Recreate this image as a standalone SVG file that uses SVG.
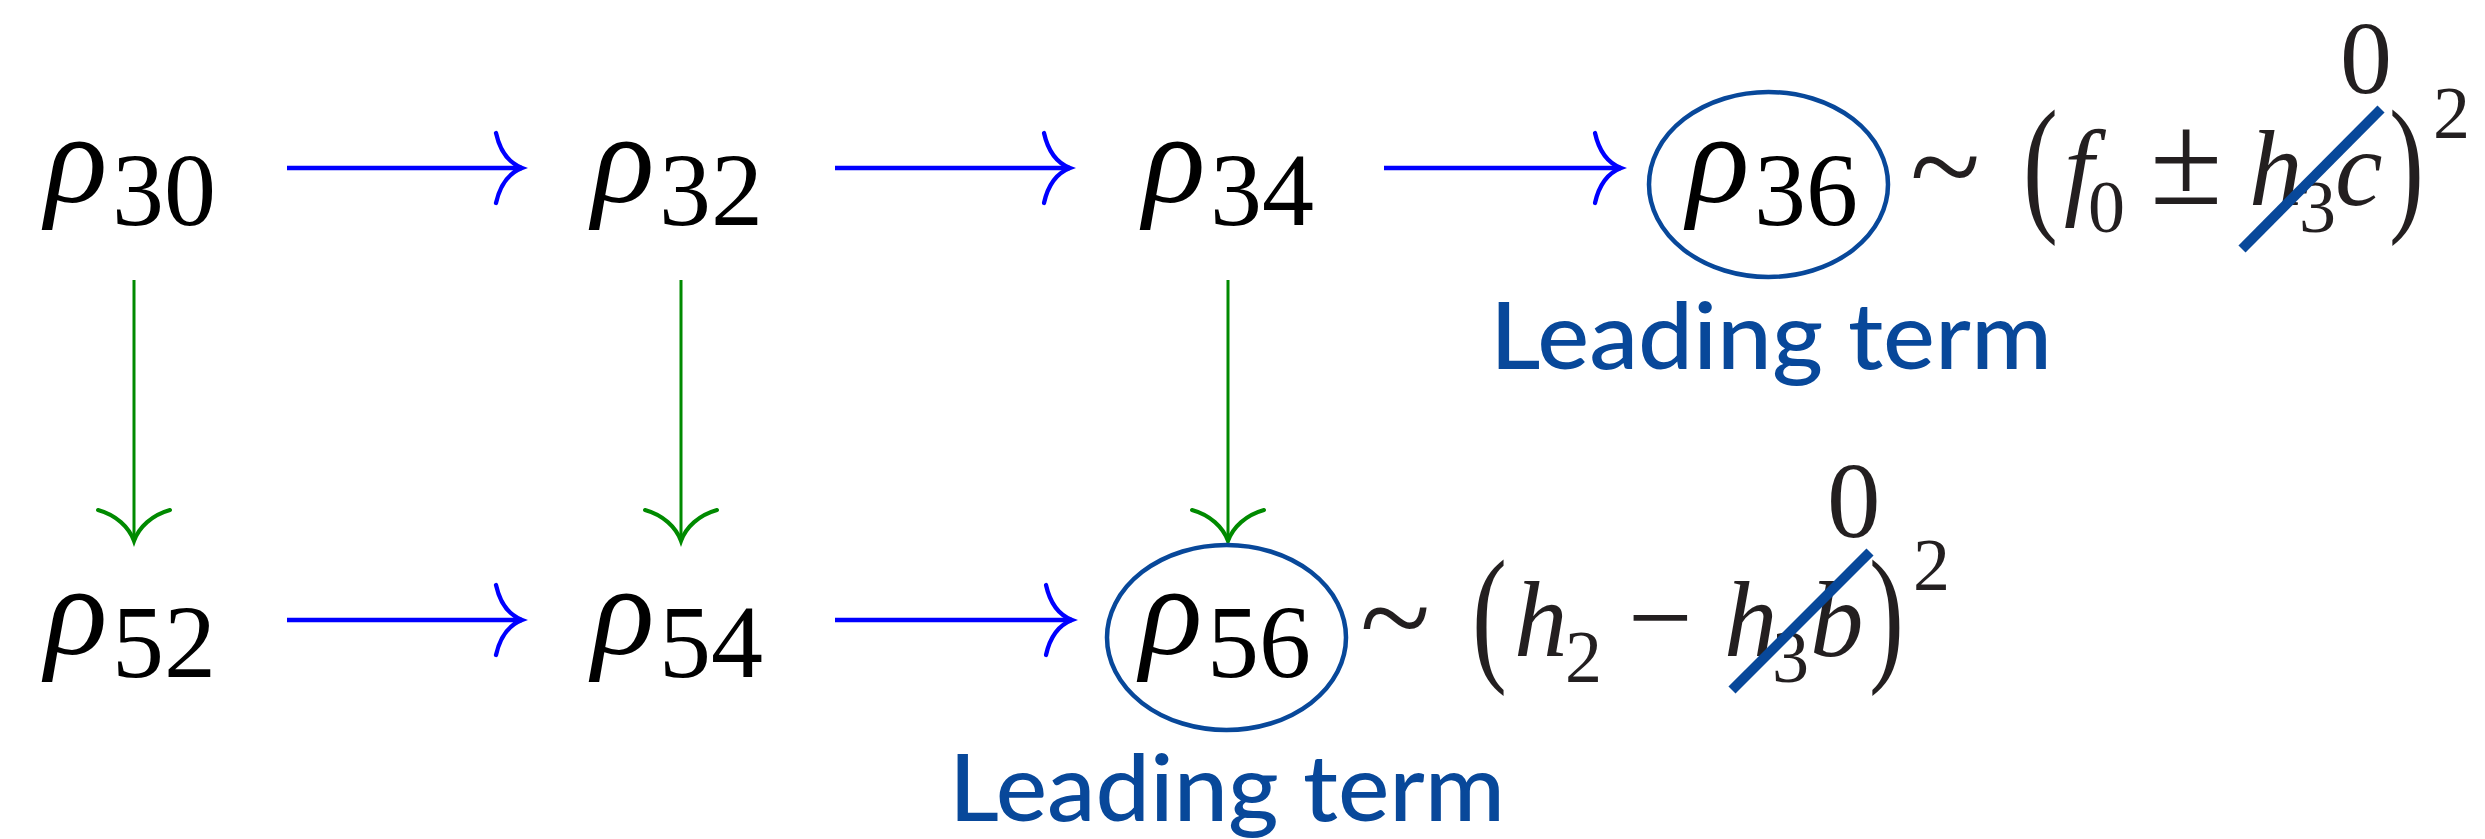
<svg xmlns="http://www.w3.org/2000/svg" width="2485" height="839" viewBox="0 0 2485 839">
  <style>
    .rho { font-family: "Liberation Serif", serif; font-style: italic; font-size: 130px; fill: #000; }
    .idx { font-family: "Liberation Serif", serif; font-size: 104px; fill: #000; }
    .m { font-family: "Liberation Serif", serif; font-size: 107px; fill: #231f20; }
    .mi { font-family: "Liberation Serif", serif; font-style: italic; font-size: 107px; fill: #231f20; }
    .ms { font-family: "Liberation Serif", serif; font-size: 74px; fill: #231f20; }
    .par { font-family: "Liberation Serif", serif; font-size: 150px; fill: #231f20; }
    .lead { font-family: Lato, "Noto Sans", sans-serif; font-size: 92px; font-weight: 500; fill: #08489a; }
    .ring { fill: none; stroke: #08489a; stroke-width: 4.5; }
    .cross { stroke: #08489a; stroke-width: 10; stroke-linecap: butt; }
    .h { stroke: #0000ff; stroke-width: 4.3; fill: none; }
    .v { stroke: #008a00; stroke-width: 3; fill: none; }
  </style>
  <defs>
    <marker id="headBlue" markerUnits="userSpaceOnUse" viewBox="-32 -40 36 80" markerWidth="36" markerHeight="80" refX="0" refY="0" orient="auto" overflow="visible">
      <path d="M -26,-35 C -22,-17 -13,-5 0,0 C -13,5 -22,17 -26,35" fill="none" stroke="#0000ff" stroke-width="4.3" stroke-linecap="round"/>
    </marker>
    <marker id="headGreen" markerUnits="userSpaceOnUse" viewBox="-36 -40 40 80" markerWidth="40" markerHeight="80" refX="0" refY="0" orient="auto" overflow="visible">
      <path d="M -31,-36 C -26,-18 -14,-5 0,0 C -14,5 -26,18 -31,36" fill="none" stroke="#008a00" stroke-width="4" stroke-linecap="round"/>
    </marker>
  </defs>
  <rect width="2485" height="839" fill="#fff"/>

  <g id="connectors">
    <line class="h" x1="287" y1="168" x2="522" y2="168" marker-end="url(#headBlue)"/>
    <line class="h" x1="835" y1="168" x2="1070" y2="168" marker-end="url(#headBlue)"/>
    <line class="h" x1="1384" y1="168" x2="1621" y2="168" marker-end="url(#headBlue)"/>
    <line class="h" x1="287" y1="620" x2="522" y2="620" marker-end="url(#headBlue)"/>
    <line class="h" x1="835" y1="620" x2="1072" y2="620" marker-end="url(#headBlue)"/>
    <line class="v" x1="134" y1="280" x2="134" y2="541" marker-end="url(#headGreen)"/>
    <line class="v" x1="681" y1="280" x2="681" y2="541" marker-end="url(#headGreen)"/>
    <line class="v" x1="1228" y1="280" x2="1228" y2="541" marker-end="url(#headGreen)"/>
  </g>

  <g id="n30">
    <text class="rho" x="45" y="202">ρ</text>
    <text class="idx" x="112" y="225">30</text>
  </g>
  <g id="n32">
    <text class="rho" x="592" y="202">ρ</text>
    <text class="idx" x="659" y="225">32</text>
  </g>
  <g id="n34">
    <text class="rho" x="1143" y="202">ρ</text>
    <text class="idx" x="1210" y="225">34</text>
  </g>
  <g id="n36">
    <ellipse class="ring" cx="1768.5" cy="184.5" rx="119.5" ry="92.5"/>
    <text class="rho" x="1687" y="202">ρ</text>
    <text class="idx" x="1754" y="225">36</text>
  </g>
  <g id="n52">
    <text class="rho" x="45" y="654">ρ</text>
    <text class="idx" x="112" y="677">52</text>
  </g>
  <g id="n54">
    <text class="rho" x="592" y="654">ρ</text>
    <text class="idx" x="659" y="677">54</text>
  </g>
  <g id="n56">
    <ellipse class="ring" cx="1226.5" cy="637.5" rx="119.5" ry="92.5"/>
    <text class="rho" x="1140" y="654">ρ</text>
    <text class="idx" x="1207" y="677">56</text>
  </g>

  <g id="formula36">
    <text class="m" x="1910" y="210" style="font-size:130px">~</text>
    <text class="par" transform="translate(2023,214) scale(0.7,1)">(</text>
    <text class="mi" x="2064" y="205">f</text>
    <text class="ms" x="2088" y="232">0</text>
    <text class="m" x="2150" y="204" style="font-size:132px">±</text>
    <text class="mi" x="2249" y="205">h</text>
    <text class="ms" x="2299" y="232">3</text>
    <text class="mi" x="2335" y="205">c</text>
    <text class="par" transform="translate(2389,214) scale(0.7,1)">)</text>
    <text class="ms" x="2433" y="138">2</text>
    <text class="m" x="2340" y="93" style="font-size:104px">0</text>
    <line class="cross" x1="2242" y1="249" x2="2381" y2="109"/>
  </g>

  <g id="formula56">
    <text class="m" x="1360" y="661" style="font-size:130px">~</text>
    <text class="par" transform="translate(1472,664) scale(0.7,1)">(</text>
    <text class="mi" x="1514" y="656">h</text>
    <text class="ms" x="1565" y="682">2</text>
    <text class="m" x="1628" y="656" style="font-size:115px">−</text>
    <text class="mi" x="1724" y="656">h</text>
    <text class="ms" x="1772" y="682">3</text>
    <text class="mi" x="1810" y="656">b</text>
    <text class="par" transform="translate(1869,664) scale(0.7,1)">)</text>
    <text class="ms" x="1913" y="590">2</text>
    <text class="m" x="1827" y="537">0</text>
    <line class="cross" x1="1732" y1="690" x2="1870" y2="552"/>
  </g>

  <g id="label36">
    <text class="lead" x="1490" y="369" textLength="562" lengthAdjust="spacingAndGlyphs">Leading term</text>
  </g>
  <g id="label56">
    <text class="lead" x="949" y="821" textLength="556" lengthAdjust="spacingAndGlyphs">Leading term</text>
  </g>
</svg>
